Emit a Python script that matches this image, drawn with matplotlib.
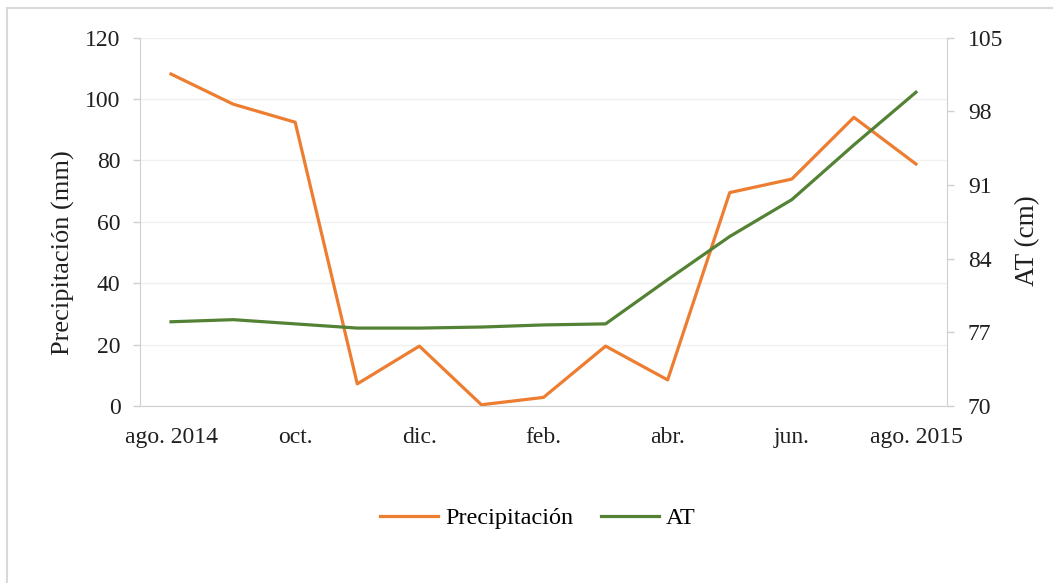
import matplotlib.pyplot as plt
from matplotlib.patches import Rectangle

months = ["ago. 2014", "sep.", "oct.", "nov.", "dic.", "ene.", "feb.", "mar.",
          "abr.", "may.", "jun.", "jul.", "ago. 2015"]
precip = [108.1, 98.3, 92.4, 7.2, 19.5, 0.4, 2.8, 19.5, 8.5, 69.5, 73.9, 94.0, 78.8]
at = [78.0, 78.2, 77.8, 77.4, 77.4, 77.5, 77.7, 77.8, 82.0, 86.1, 89.6, 94.8, 99.8]
left_ticks = [0, 20, 40, 60, 80, 100, 120]
right_ticks = [70, 77, 84, 91, 98, 105]

plt.rcParams['font.family'] = ['Liberation Serif', 'DejaVu Serif']
orange = "#ED7D31"
green = "#548235"
grey = "#D0D0D0"
txt = "#202020"

fig = plt.figure(figsize=(10.53, 5.83), dpi=100)
fig.patches.append(Rectangle((7 / 1053, -0.1), 1.2, (583 - 8) / 583 + 0.1,
                             transform=fig.transFigure, fill=False,
                             edgecolor="#D9D9D9", linewidth=1.5))
ax = fig.add_axes([140 / 1053, 1 - 406 / 583, 807 / 1053, 368.5 / 583])
ax2 = ax.twinx()

x = list(range(len(months)))
l1, = ax.plot(x, precip, color=orange, linewidth=2.3, label="Precipitación")
l2, = ax2.plot(x, at, color=green, linewidth=2.3, label="AT")

ax.set_xlim(-0.5, len(months) - 0.5)
ax.set_ylim(0, 120)
ax2.set_ylim(70, 105)
ax.set_yticks(left_ticks)
ax2.set_yticks(right_ticks)
ax.set_xticks(x[::2])
ax.set_xticklabels(months[::2])

ax.grid(axis="y", color="#F0F0F0", linewidth=1)
ax.set_axisbelow(True)

for a in (ax, ax2):
    for s in a.spines.values():
        s.set_color(grey)
    a.spines["top"].set_visible(False)
    a.tick_params(axis="y", colors=grey, labelcolor=txt, labelsize=17,
                  length=5, width=1)
ax.tick_params(axis="y", pad=9)
ax2.tick_params(axis="y", pad=10)
ax.tick_params(axis="x", length=0, labelsize=17, labelcolor=txt, pad=15)
ax.spines["right"].set_visible(False)
ax2.spines["left"].set_visible(False)
ax2.spines["bottom"].set_visible(False)

ax.set_ylabel("Precipitación (mm)", fontsize=19, color=txt)
ax.yaxis.set_label_coords(-0.081, 0.415)
ax2.set_ylabel("AT (cm)", fontsize=19.5, color=txt)
ax2.yaxis.set_label_coords(1.084, 0.45)

fig.legend(handles=[l1, l2], loc="center", bbox_to_anchor=(538 / 1053, 1 - 518 / 583),
           ncol=2, frameon=False, fontsize=17.5, handlelength=2.4, columnspacing=1.1,
           handletextpad=0.3)

fig.savefig("out.png", dpi=100)
